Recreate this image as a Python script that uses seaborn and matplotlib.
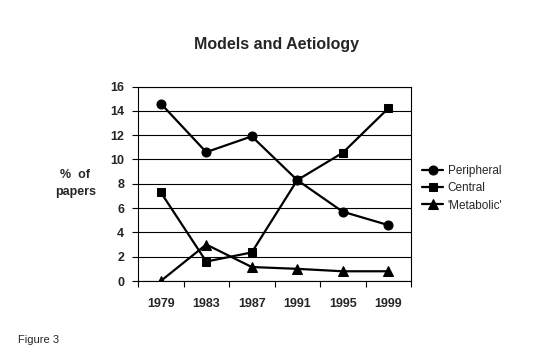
import numpy as np
import pandas as pd
import matplotlib
matplotlib.use("Agg")
import matplotlib.pyplot as plt
import seaborn as sns

# Data
years = ["1979", "1983", "1987", "1991", "1995", "1999"]
peripheral = [14.6, 10.6, 11.9, 8.3, 5.7, 4.6]
central = [7.3, 1.6, 2.35, 8.3, 10.55, 14.2]
metabolic = [0.0, 3.0, 1.15, 1.0, 0.8, 0.8]

sns.set_style("white")
plt.rcParams['font.family'] = ['Liberation Sans', 'DejaVu Sans']

fig = plt.figure(figsize=(5.4, 3.6), dpi=100)
ax = fig.add_axes([138 / 540, 79 / 360, 273 / 540, 194.5 / 360])

series = [("Peripheral", peripheral, "o", 6.5),
          ("Central", central, "s", 5.5),
          ("'Metabolic'", metabolic, "^", 6.5)]
for name, vals, mk, ms in series:
    sns.lineplot(x=years, y=vals, ax=ax, color="black", marker=mk, markersize=ms,
                 markeredgecolor="black", linewidth=1.6, label=name, sort=False)

ax.set_ylim(0, 16)
ax.set_yticks(np.arange(0, 17, 2))
ax.set_xlim(-0.5, 5.5)
ax.grid(True, axis="y", color="black", linewidth=0.8)
ax.grid(False, axis="x")
for side in ["left", "bottom", "right", "top"]:
    ax.spines[side].set_color("black")
    ax.spines[side].set_linewidth(0.8)

# category boundaries as tick marks, labels centred in each category
ax.set_xticks(np.arange(-0.5, 6, 1), minor=True)
ax.tick_params(axis="x", which="major", length=0, pad=12, labelsize=9)
ax.tick_params(axis="x", which="minor", length=4, width=0.8, direction="out", bottom=True, color="black")
ax.tick_params(axis="y", which="major", length=4, width=0.8, direction="out", left=True, pad=6, labelsize=9, color="black")
for lbl in ax.get_xticklabels() + ax.get_yticklabels():
    lbl.set_fontweight("bold")

ax.set_xlabel("")
ax.set_ylabel("%  of\npapers", rotation=0, fontsize=9, fontweight="bold",
              ha="center", va="center", linespacing=1.6)
ax.yaxis.set_label_coords(-0.23, 0.5)

ax.legend(loc="upper left", bbox_to_anchor=(416 / 540, 1 - 159 / 360),
          bbox_transform=fig.transFigure, frameon=False, fontsize=8.5,
          handlelength=1.8, handletextpad=0.4, labelspacing=0.45, borderpad=0)

fig.text(276 / 540, 1 - 44 / 360, "Models and Aetiology", ha="center", va="center",
         fontsize=11.5, fontweight="bold")
fig.text(18 / 540, 1 - 340 / 360, "Figure 3", ha="left", va="center", fontsize=8)

fig.savefig("out.png", dpi=100, facecolor="white")
